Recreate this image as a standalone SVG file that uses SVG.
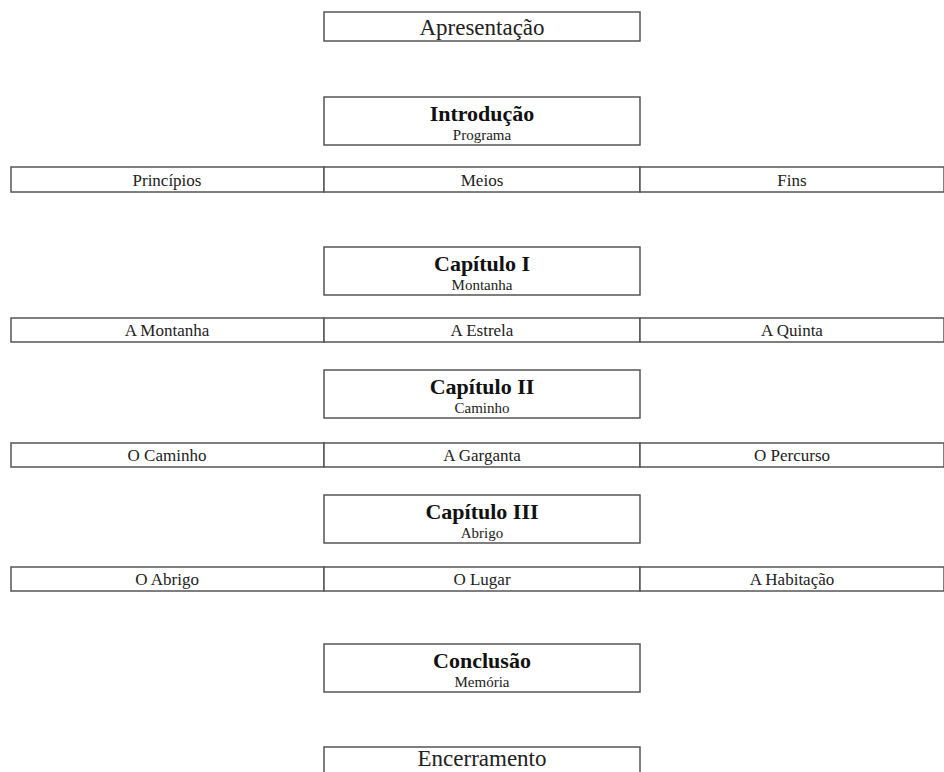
<svg xmlns="http://www.w3.org/2000/svg" width="944" height="772" viewBox="0 0 944 772">
<style>
.b{fill:#fff;stroke:#555;stroke-width:1.5}
text{font-family:"Liberation Serif",serif;fill:#222;text-anchor:middle}
.t{font-size:23px}
.h{font-size:22px;font-weight:bold;fill:#111}
.s{font-size:15px}
.r{font-size:17px}
</style>
<rect width="944" height="772" fill="#fff"/>
<g id="apresentacao"><rect class="b" x="324" y="12" width="316" height="29"/><text class="t" x="482" y="35">Apresentação</text></g>
<g id="introducao"><rect class="b" x="324" y="97" width="316" height="48"/><text class="h" x="482" y="121">Introdução</text><text class="s" x="482" y="140">Programa</text></g>
<g id="principios"><rect class="b" x="11" y="167" width="313" height="25"/><text class="r" x="167" y="186">Princípios</text></g>
<g id="meios"><rect class="b" x="324" y="167" width="316" height="25"/><text class="r" x="482" y="186">Meios</text></g>
<g id="fins"><rect class="b" x="640" y="167" width="304" height="25"/><text class="r" x="792" y="186">Fins</text></g>
<g id="cap1"><rect class="b" x="324" y="247" width="316" height="48"/><text class="h" x="482" y="271">Capítulo I</text><text class="s" x="482" y="290">Montanha</text></g>
<g id="montanha"><rect class="b" x="11" y="318" width="313" height="24"/><text class="r" x="167" y="336">A Montanha</text></g>
<g id="estrela"><rect class="b" x="324" y="318" width="316" height="24"/><text class="r" x="482" y="336">A Estrela</text></g>
<g id="quinta"><rect class="b" x="640" y="318" width="304" height="24"/><text class="r" x="792" y="336">A Quinta</text></g>
<g id="cap2"><rect class="b" x="324" y="370" width="316" height="48"/><text class="h" x="482" y="394">Capítulo II</text><text class="s" x="482" y="413">Caminho</text></g>
<g id="caminho"><rect class="b" x="11" y="443" width="313" height="24"/><text class="r" x="167" y="461">O Caminho</text></g>
<g id="garganta"><rect class="b" x="324" y="443" width="316" height="24"/><text class="r" x="482" y="461">A Garganta</text></g>
<g id="percurso"><rect class="b" x="640" y="443" width="304" height="24"/><text class="r" x="792" y="461">O Percurso</text></g>
<g id="cap3"><rect class="b" x="324" y="495" width="316" height="48"/><text class="h" x="482" y="519">Capítulo III</text><text class="s" x="482" y="538">Abrigo</text></g>
<g id="abrigo"><rect class="b" x="11" y="567" width="313" height="24"/><text class="r" x="167" y="585">O Abrigo</text></g>
<g id="lugar"><rect class="b" x="324" y="567" width="316" height="24"/><text class="r" x="482" y="585">O Lugar</text></g>
<g id="habitacao"><rect class="b" x="640" y="567" width="304" height="24"/><text class="r" x="792" y="585">A Habitação</text></g>
<g id="conclusao"><rect class="b" x="324" y="644" width="316" height="48"/><text class="h" x="482" y="668">Conclusão</text><text class="s" x="482" y="687">Memória</text></g>
<g id="encerramento"><rect class="b" x="324" y="747" width="316" height="40"/><text class="t" x="482" y="766">Encerramento</text></g>
<g id="connectors"></g>
</svg>
